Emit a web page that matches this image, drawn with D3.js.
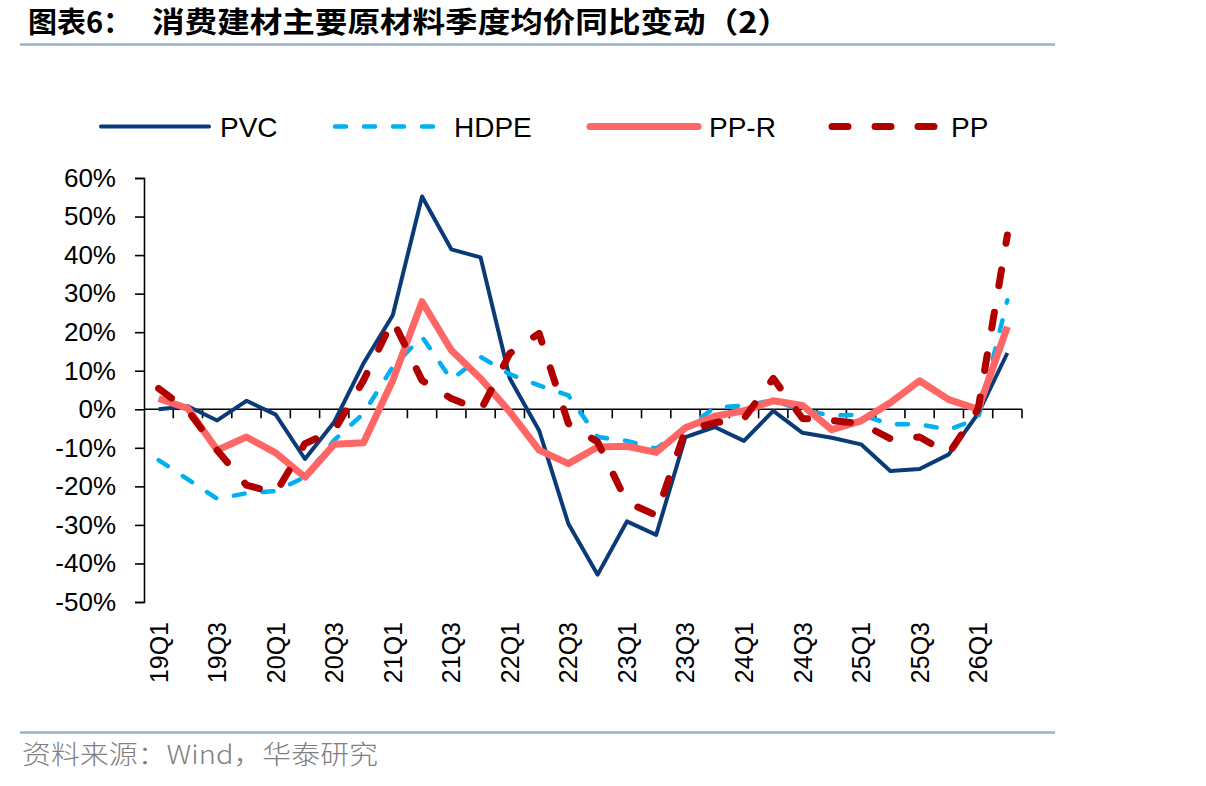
<!DOCTYPE html>
<html>
<head>
<meta charset="utf-8">
<script src="https://cdn.jsdelivr.net/npm/d3@7"></script>
<style>
  body { margin: 0; background: #fff; }
  text { font-family: Arial, "Liberation Sans", sans-serif; fill: #000; }
  .cjk { font-family: "Noto Sans CJK SC", sans-serif; }
</style>
</head>
<body>
<div id="chart"></div>
<script>
// quarters 19Q1 .. 26Q2
var quarters = [];
for (var yr = 19; yr <= 26; yr++) {
  for (var q = 1; q <= 4; q++) {
    if (yr == 26 && q > 2) break;
    quarters.push(yr + "Q" + q);
  }
}

// YoY change of quarterly average price, in %
var pvc  = [0, 0.8, -2.9, 2.2, -1.4, -12.9, -3.3, 11.9, 24.4, 55.2, 41.5, 39.4, 8, -5.5, -29.7, -42.9, -29.1, -32.6, -7.2, -4.6, -8.2, -0.4, -6.1, -7.4, -9.1, -16, -15.5, -11.7, -1.1, 14.6];
var hdpe = [-13.2, -18.2, -23.2, -21.8, -21.2, -17.6, -8, -1.1, 11, 18.8, 7.7, 13.6, 9.1, 6.2, 3.6, -7.2, -8.2, -10.2, -5, 0.4, 1, 2.3, -0.3, -1.6, -1.4, -3.9, -3.9, -5.3, -2.4, 28.3];
var ppr  = [2.8, 0.2, -10.6, -7.2, -11.3, -17.6, -9.1, -8.7, 7.5, 27.9, 15.3, 8, -0.7, -10.6, -14.1, -9.8, -9.6, -11.2, -4.8, -1.8, -0.4, 2.2, 1, -5.3, -3, 1.7, 7.4, 2.5, 0, 21.4];
var pp   = [5.4, -0.3, -10.6, -19.7, -21.7, -8.9, -5.5, 7.5, 23.1, 7.5, 2.8, -0.3, 14.5, 19.7, -3.7, -8.5, -24.1, -27.5, -5.5, -3.5, -2.4, 8, -2.4, -2.9, -3.7, -7.6, -7.2, -11.5, 0, 45.2];

var yTicks = [60, 50, 40, 30, 20, 10, 0, -10, -20, -30, -40, -50];

var series = [
  { name: "PVC",  values: pvc,  color: "#0B3A78", width: 4,   dash: null,    legX: 101 },
  { name: "HDPE", values: hdpe, color: "#00B0F0", width: 4.5, dash: "11,18", legX: 335 },
  { name: "PP-R", values: ppr,  color: "#FF6666", width: 7,   dash: null,    legX: 590 },
  { name: "PP",   values: pp,   color: "#B00000", width: 7,   dash: "16,27", legX: 832 }
];

var width = 1206, height = 786;
var svg = d3.select("#chart").append("svg")
  .attr("width", width)
  .attr("height", height);

// title
svg.append("text").attr("class", "cjk")
  .attr("x", 28).attr("y", 33)
  .attr("font-size", 29).attr("font-weight", "bold")
  .text("图表6：");
svg.append("text").attr("class", "cjk")
  .attr("x", 152).attr("y", 33)
  .attr("font-size", 29).attr("font-weight", "bold")
  .attr("textLength", 638).attr("lengthAdjust", "spacingAndGlyphs")
  .text("消费建材主要原材料季度均价同比变动（2）");

svg.append("line")
  .attr("x1", 20).attr("x2", 1055).attr("y1", 44.5).attr("y2", 44.5)
  .attr("stroke", "#9AB0CC").attr("stroke-width", 2.5);

// scales
var x = d3.scaleBand().domain(quarters).range([144, 1022]).padding(0);
var y = d3.scaleLinear().domain([-50, 60]).range([602, 178]);
var cx = function (d) { return x(d) + x.bandwidth() / 2; };

var g = svg.append("g");

// y axis
var yAxis = d3.axisLeft(y).tickValues(yTicks).tickSize(9).tickFormat(function (d) { return d + "%"; });
g.append("g").attr("transform", "translate(144,0)").call(yAxis)
  .call(function (a) {
    a.select(".domain").attr("stroke", "#000").attr("stroke-width", 1.6);
    a.selectAll(".tick line").attr("stroke", "#000").attr("stroke-width", 1.6);
    a.selectAll(".tick text").attr("x", -28).attr("font-size", 26)
      .attr("font-family", "Arial, 'Liberation Sans', sans-serif").attr("fill", "#000");
  });

// x axis at 0
var xg = g.append("g");
xg.append("line")
  .attr("x1", 144).attr("x2", 1022).attr("y1", y(0)).attr("y2", y(0))
  .attr("stroke", "#000").attr("stroke-width", 1.6);
xg.selectAll("line.tk")
  .data(quarters.slice(1).concat(["end"]))
  .enter().append("line").attr("class", "tk")
  .attr("x1", function (d) { return d == "end" ? 1022 : x(d); })
  .attr("x2", function (d) { return d == "end" ? 1022 : x(d); })
  .attr("y1", y(0)).attr("y2", y(0) + 9)
  .attr("stroke", "#000").attr("stroke-width", 1.6);

// category labels (every other quarter)
g.selectAll("text.xl")
  .data(quarters.filter(function (d, i) { return i % 2 == 0; }))
  .enter().append("text").attr("class", "xl")
  .attr("transform", function (d) { return "translate(" + cx(d) + ",622) rotate(-90)"; })
  .attr("text-anchor", "end")
  .attr("dy", "0.36em")
  .attr("font-size", 25)
  .text(function (d) { return d; });

// lines
var line = d3.line()
  .x(function (d, i) { return cx(quarters[i]); })
  .y(function (d) { return y(d); });

series.forEach(function (s) {
  g.append("path")
    .datum(s.values)
    .attr("d", line)
    .attr("fill", "none")
    .attr("stroke", s.color)
    .attr("stroke-width", s.width)
    .attr("stroke-linejoin", "round")
    .attr("stroke-linecap", s.dash ? "round" : "butt")
    .attr("stroke-dasharray", s.dash);
});

// legend
var leg = svg.append("g");
series.forEach(function (s) {
  leg.append("line")
    .attr("x1", s.legX).attr("x2", s.legX + 108)
    .attr("y1", 126.5).attr("y2", 126.5)
    .attr("stroke", s.color)
    .attr("stroke-width", s.width)
    .attr("stroke-linecap", "round")
    .attr("stroke-dasharray", s.dash);
  leg.append("text")
    .attr("x", s.legX + 119).attr("y", 126.5)
    .attr("dy", "0.36em")
    .attr("font-size", 28)
    .text(s.name);
});

// footer
svg.append("line")
  .attr("x1", 20).attr("x2", 1055).attr("y1", 732.5).attr("y2", 732.5)
  .attr("stroke", "#9AB0CC").attr("stroke-width", 2.5);
svg.append("text").attr("class", "cjk")
  .attr("x", 22).attr("y", 764)
  .attr("font-size", 26).attr("font-weight", 300)
  .attr("textLength", 356).attr("lengthAdjust", "spacingAndGlyphs")
  .style("fill", "#808080")
  .text("资料来源：Wind，华泰研究");
</script>
</body>
</html>
